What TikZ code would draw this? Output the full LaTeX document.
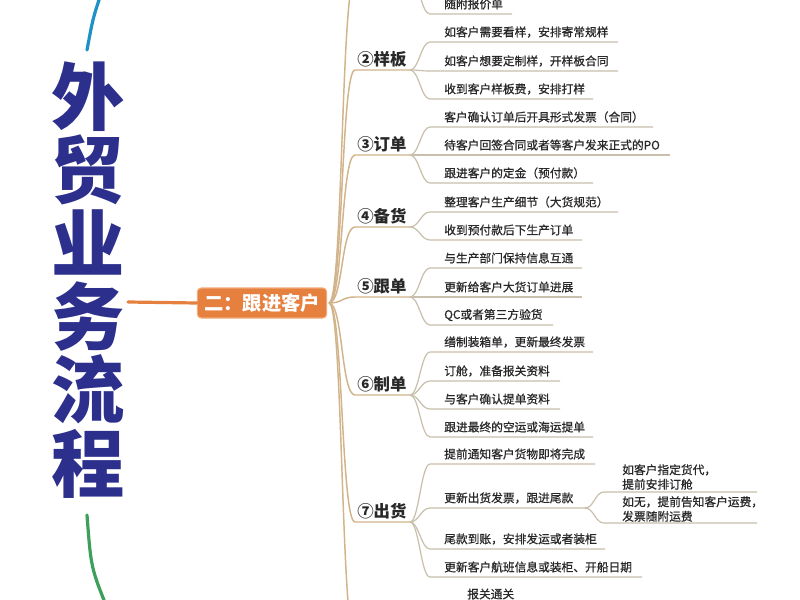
\documentclass[tikz,border=0pt]{standalone}
\usepackage{fontspec}
\setmainfont{Noto Sans CJK SC}
\newfontfamily\leafff{Noto Sans CJK SC}[FakeBold=0.7]
\usetikzlibrary{calc}
\definecolor{titlec}{RGB}{44,47,140}
\definecolor{bluec}{RGB}{30,145,200}
\definecolor{greenc}{RGB}{60,160,90}
\definecolor{orangec}{RGB}{229,128,62}
\definecolor{orangeb}{RGB}{242,170,120}
\definecolor{stemc}{RGB}{210,180,138}
\definecolor{leafc}{RGB}{200,192,172}
\definecolor{txtc}{RGB}{40,40,40}
\tikzset{
  titletext/.style={font={\fontsize{55}{55}\selectfont\bfseries}, text=titlec, align=center, inner sep=0pt},
  rootbox/.style={fill=orangec, draw=orangeb, line width=0.8pt, rounded corners=3pt, minimum width=97pt, minimum height=22.5pt, inner sep=0pt, text=white, font={\fontsize{14.5}{16}\selectfont\bfseries}},
  cat/.style={anchor=west, inner sep=0pt, text=txtc, font={\fontsize{12.3}{14}\selectfont\bfseries}},
  leaf/.style={anchor=west, inner sep=0pt, text=txtc, font={\leafff\fontsize{8.8}{10.9}\selectfont}, align=left},
  stem/.style={draw=stemc, line width=1.1pt},
  leafline/.style={draw=leafc, line width=0.9pt},
  blueline/.style={draw=bluec, line width=2.4pt, line cap=round},
  greenline/.style={draw=greenc, line width=2.4pt, line cap=round},
  orangeline/.style={draw=orangec, line width=2.4pt, line cap=round}
}
\begin{document}
\begin{tikzpicture}[x=0.75pt,y=-0.75pt]
\useasboundingbox (0,0) rectangle (800,600);
\clip (0,0) rectangle (800,600);
\fill[white] (0,0) rectangle (800,600);

% title column
\node[titletext] (title) at (88,280) {外\\贸\\业\\务\\流\\程};

% arcs of the outer map
\coordinate (b1) at (101,-6);
\coordinate (b2) at (87,50);
\draw[blueline] (b1) .. controls (93,18) .. (b2);
\coordinate (g1) at (87,515);
\coordinate (g2) at (108,610);
\draw[greenline] (g1) .. controls (91,568) .. (g2);

% root box
\node[rootbox] (root) at (262,303) {二：跟进客户};
\coordinate (o1) at (128,302);
\draw[orangeline] (o1) -- (root.west);
\coordinate (R) at (329,303);

% categories
\coordinate (c1s) at (355,-22);
\coordinate (c1e) at (410,-22);
\draw[stem] (R) .. controls ($(R)+(14,0)$) and ($(c1s)+(-14,0)$) .. (c1s) -- (c1e);
\coordinate (c8s) at (355,640);
\coordinate (c8e) at (410,640);
\draw[stem] (R) .. controls ($(R)+(14,0)$) and ($(c8s)+(-14,0)$) .. (c8s) -- (c8e);
\foreach \n/\y/\lab in {2/70/②样板, 3/155/③订单, 4/227/④备货, 5/297/⑤跟单, 6/395/⑥制单, 7/522/⑦出货}{
  \coordinate (c\n s) at (355,\y);
  \coordinate (c\n e) at (410,\y);
  \draw[stem] (R) .. controls ($(R)+(14,0)$) and ($(c\n s)+(-14,0)$) .. (c\n s) -- (c\n e);
  \node[cat] (cat\n) at (357,\y-11) {\lab};
}

% leaves
\foreach \k/\c/\y/\xe/\t in {
  1/1/14/512/随附报价单,
  2/2/42/618/如客户需要看样，安排寄常规样,
  3/2/71/618/如客户想要定制样，开样板合同,
  4/2/99/593/收到客户样板费，安排打样,
  5/3/127/653/客户确认订单后开具形式发票（合同）,
  6/3/155/670/待客户回签合同或者等客户发来正式的PO,
  7/3/183/593/跟进客户的定金（预付款）,
  8/4/212/618/整理客户生产细节（大货规范）,
  9/4/240/582/收到预付款后下生产订单,
  10/5/268/582/与生产部门保持信息互通,
  11/5/297/582/更新给客户大货订单进展,
  12/5/325/553/QC或者第三方验货,
  13/6/352/593/缮制装箱单，更新最终发票,
  14/6/381/560/订舱，准备报关资料,
  15/6/409/560/与客户确认提单资料,
  16/6/437/593/跟进最终的空运或海运提单,
  17/7/464/595/提前通知客户货物即将完成,
  18/7/508/585/更新出货发票，跟进尾款,
  19/7/549/605/尾款到账，安排发运或者装柜,
  20/7/577/642/更新客户航班信息或装柜、开船日期}{
  \coordinate (l\k s) at (430,\y);
  \coordinate (l\k e) at (\xe,\y);
  \draw[leafline] (c\c e) .. controls ($(c\c e)+(9,0)$) and ($(l\k s)+(-9,0)$) .. (l\k s) -- (l\k e);
  \node[leaf] (leaf\k) at (444,\y-10) {\t};
}

% sub leaves of 更新出货发票
\coordinate (s1s) at (604,492);
\coordinate (s1e) at (757,492);
\coordinate (s2s) at (604,523);
\coordinate (s2e) at (757,523);
\draw[leafline] (l18e) .. controls ($(l18e)+(9,0)$) and ($(s1s)+(-9,0)$) .. (s1s) -- (s1e);
\draw[leafline] (l18e) .. controls ($(l18e)+(9,0)$) and ($(s2s)+(-9,0)$) .. (s2s) -- (s2e);
\node[leaf] (sub1) at (622,477) {如客户指定货代，\\提前安排订舱};
\node[leaf] (sub2) at (622,509) {如无，提前告知客户运费，\\发票随附运费};

% partly visible leaf of the next branch
\node[leaf] (leaf21) at (467,594) {报关通关};
\end{tikzpicture}
\end{document}
